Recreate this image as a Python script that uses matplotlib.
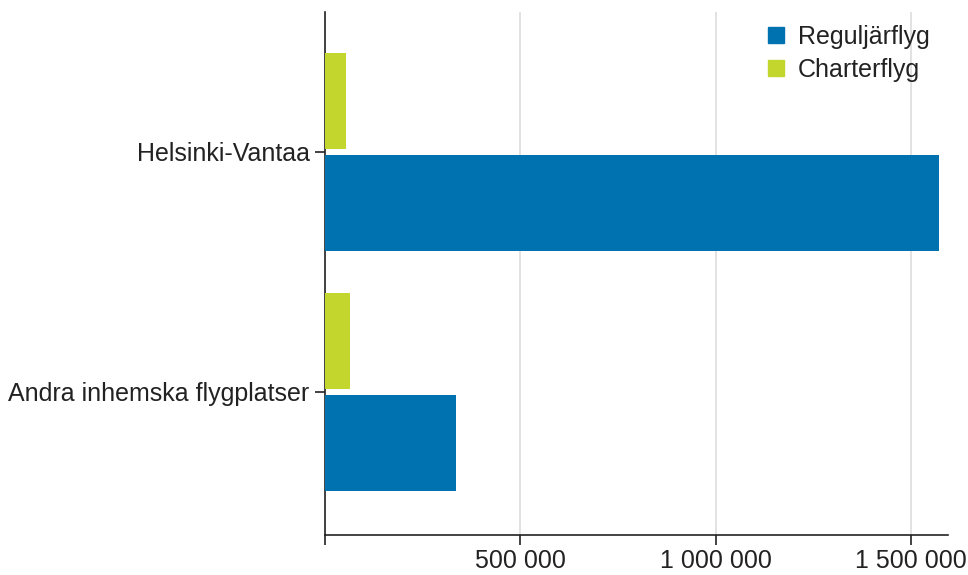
import matplotlib.pyplot as plt
from matplotlib.lines import Line2D

categories = ["Helsinki-Vantaa", "Andra inhemska flygplatser"]
reguljar = [1572000, 335000]
charter = [54000, 64000]
series_names = ["Reguljärflyg", "Charterflyg"]
xticks = [0, 500000, 1000000, 1500000]
xtick_labels = ["", "500 000", "1 000 000", "1 500 000"]

blue = "#0072B0"
green = "#C3D62E"
text_col = "#222222"

plt.rcParams['font.family'] = ['Liberation Sans', 'DejaVu Sans']
plt.rcParams['font.size'] = 18

fig = plt.figure(figsize=(9.68, 5.75), dpi=100)
ax = fig.add_axes([0.3357, 0.0696, 0.6436, 0.9095])

pos = list(range(len(categories)))
ax.barh([p - 0.213 for p in pos], charter, height=0.4, color=green, zorder=3)
ax.barh([p + 0.213 for p in pos], reguljar, height=0.4, color=blue, zorder=3)

ax.set_ylim(1.596, -0.583)
ax.set_xlim(0, 1595000)
ax.set_yticks(pos)
ax.set_yticklabels(categories, color=text_col)
ax.set_xticks(xticks)
ax.set_xticklabels(xtick_labels, color=text_col)
ax.tick_params(axis='both', direction='out', length=7, width=1.2, colors='#222222', labelcolor=text_col)
ax.tick_params(axis='y', pad=4)
ax.tick_params(axis='x', pad=3)

ax.grid(axis='x', color='#dddddd', linewidth=1.2, zorder=0)
for s in ['top', 'right']:
    ax.spines[s].set_visible(False)
for s in ['left', 'bottom']:
    ax.spines[s].set_linewidth(1.2)
    ax.spines[s].set_color('#222222')

handles = [Line2D([], [], marker='s', linestyle='none', markersize=11, color=blue),
           Line2D([], [], marker='s', linestyle='none', markersize=11, color=green)]
leg = ax.legend(handles, series_names, loc='upper right', bbox_to_anchor=(0.971, 0.976),
                frameon=False, handlelength=0.8, handletextpad=0.5, labelspacing=0.38,
                borderaxespad=0, borderpad=0)
for t in leg.get_texts():
    t.set_color(text_col)

plt.savefig("out.png", dpi=100)
